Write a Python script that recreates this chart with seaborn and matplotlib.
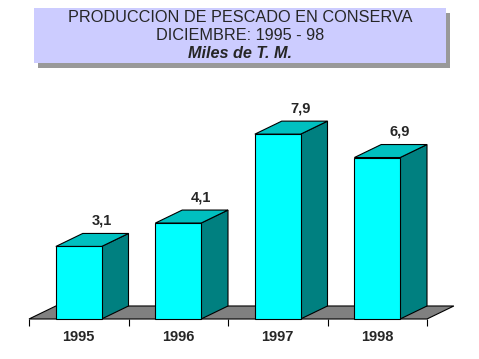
import matplotlib
matplotlib.use("Agg")
import matplotlib.pyplot as plt
from matplotlib.patches import Polygon, Rectangle
import seaborn as sns
import pandas as pd

years = ["1995", "1996", "1997", "1998"]
values = [3.1, 4.1, 7.9, 6.9]
title_lines = ["PRODUCCION DE PESCADO EN CONSERVA", "DICIEMBRE: 1995 - 98", "Miles de T. M."]

sns.set_theme(style="white")
plt.rcParams['font.family'] = ['Liberation Sans', 'DejaVu Sans']

W, H = 479, 359
fig = plt.figure(figsize=(W / 100, H / 100), dpi=100)
fig.patch.set_facecolor("white")

# axes: floor front from x=29..427 px, base at y=319 px (from top), 23.4 px per unit
ax = fig.add_axes([29 / W, 40 / H, 398 / W, 234 / H])
ax.set_xlim(-0.5, 3.5)
ax.set_ylim(0, 10)
ax.patch.set_alpha(0)
for s in ax.spines.values():
    s.set_visible(False)

FRONT = "#00FFFF"
TOP = "#00C0C0"
SIDE = "#008080"
FLOOR = "#808080"
DX = 0.27   # depth in category units
DY = 0.556  # depth in value units
BW = 0.46

# floor
floor = Polygon([(-0.5, 0), (3.5, 0), (3.5 + DX, DY), (-0.5 + DX, DY)], closed=True,
                facecolor=FLOOR, edgecolor="black", lw=0.8, clip_on=False, zorder=1)
ax.add_patch(floor)

df = pd.DataFrame({"year": years, "value": values})
sns.barplot(data=df, x="year", y="value", color=FRONT, saturation=1, width=BW,
            edgecolor="black", linewidth=0.8, ax=ax, zorder=5)

for p in ax.patches:
    if p is floor:
        continue
    x0 = p.get_x()
    w = p.get_width()
    h = p.get_height()
    x1 = x0 + w
    side = Polygon([(x1, 0), (x1 + DX, DY), (x1 + DX, h + DY), (x1, h)], closed=True,
                   facecolor=SIDE, edgecolor="black", lw=0.8, clip_on=False, zorder=3)
    top = Polygon([(x0, h), (x1, h), (x1 + DX, h + DY), (x0 + DX, h + DY)], closed=True,
                  facecolor=TOP, edgecolor="black", lw=0.8, clip_on=False, zorder=3)
    ax.add_patch(side)
    ax.add_patch(top)
    p.set_clip_on(False)

for i, v in enumerate(values):
    ax.annotate(f"{v:.1f}".replace(".", ","), xy=(i + 0.23, v + DY), xytext=(0, 4),
                textcoords="offset points", ha="center", va="bottom",
                fontsize=10.5, fontweight="bold", annotation_clip=False)

ax.set_xlabel("")
ax.set_ylabel("")
ax.set_yticks([])
ax.set_xticks(range(len(years)))
ax.set_xticklabels(years, fontsize=10.5, fontweight="bold")
ax.set_xticks([-0.5, 0.5, 1.5, 2.5, 3.5], minor=True)
ax.tick_params(axis="x", which="major", length=0, pad=8)
ax.tick_params(axis="x", which="minor", length=5, width=0.8, color="black", direction="out", bottom=True)

# title box with shadow
bx0, bx1, by0, by1 = 34, 446, 8, 63
fig.patches.append(Rectangle(((bx0 + 4) / W, 1 - (by1 + 5) / H), (bx1 - bx0) / W, (by1 - by0) / H,
                             transform=fig.transFigure, facecolor="#999999", edgecolor="none", zorder=0))
fig.patches.append(Rectangle((bx0 / W, 1 - by1 / H), (bx1 - bx0) / W, (by1 - by0) / H,
                             transform=fig.transFigure, facecolor="#CCCCFF", edgecolor="none", zorder=1))
cx = (bx0 + bx1) / 2 / W
fig.text(cx, 1 - 18 / H, title_lines[0], ha="center", va="center", fontsize=11.7)
fig.text(cx, 1 - 36 / H, title_lines[1], ha="center", va="center", fontsize=11.7)
fig.text(cx, 1 - 54 / H, title_lines[2], ha="center", va="center", fontsize=11.7,
         style="italic", fontweight="bold")

fig.savefig("out.png", dpi=100, facecolor="white")
